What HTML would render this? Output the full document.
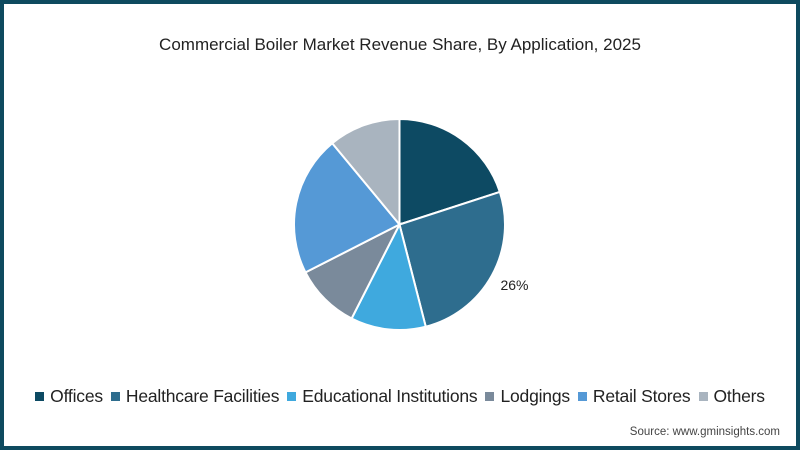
<!DOCTYPE html>
<html><head><meta charset="utf-8"><style>
body{margin:0;width:800px;height:450px;overflow:hidden;background:#fff;font-family:"Liberation Sans",sans-serif}
#frame{position:absolute;left:0;top:0;width:792px;height:442px;border:4px solid #0e4a5f;background:#fff}
#title{position:absolute;top:35px;width:800px;text-align:center;font-size:17px;color:#222}
#legend{position:absolute;top:386px;width:800px;text-align:center;font-size:17.5px;color:#222;white-space:nowrap;letter-spacing:-0.2px}
.li{display:inline-block;margin:0 4px}
.sw{display:inline-block;width:9px;height:9px;margin-right:6px;vertical-align:1px}
#src{position:absolute;right:20px;top:426px;font-size:11.5px;color:#444}
</style></head><body>
<div id="frame"></div>
<div id="title">Commercial Boiler Market Revenue Share, By Application, 2025</div>
<svg id="pie" width="800" height="450" style="position:absolute;left:0;top:0"></svg>
<div id="legend"></div>
<div id="src">Source: www.gminsights.com</div>
<script>
const categories=["Offices","Healthcare Facilities","Educational Institutions","Lodgings","Retail Stores","Others"];
const values=[20,26,11.5,10,21.5,11];
const colors=["#0d4a63","#2e6d8e","#3fa9de","#7a8a9b","#5599d6","#a9b4bf"];
const labels=["","26%","","","",""];
const svg=document.getElementById('pie');
const NS="http://www.w3.org/2000/svg";
const cx=399.5,cy=224.5,r=105.5;
const total=values.reduce((a,b)=>a+b,0);
function pt(a,rr){return [cx+rr*Math.sin(a),cy-rr*Math.cos(a)];}
let a0=0;
values.forEach((v,i)=>{
  const a1=a0+v/total*2*Math.PI;
  const p0=pt(a0,r),p1=pt(a1,r);
  const large=(a1-a0)>Math.PI?1:0;
  const p=document.createElementNS(NS,'path');
  p.setAttribute('d',`M${cx},${cy}L${p0[0]},${p0[1]}A${r},${r} 0 ${large} 1 ${p1[0]},${p1[1]}Z`);
  p.setAttribute('fill',colors[i]);p.setAttribute('stroke','#fff');p.setAttribute('stroke-width','2');
  
  
  svg.appendChild(p);
  if(labels[i]){
    const m=(a0+a1)/2;const q=pt(m,r+20);
    const t=document.createElementNS(NS,'text');
    t.setAttribute('x',q[0]+5);t.setAttribute('y',q[1]+5);t.setAttribute('font-size','14');t.setAttribute('fill','#222');
    t.setAttribute('text-anchor','middle');t.setAttribute('font-family','Liberation Sans, sans-serif');
    t.textContent=labels[i];
    
    
    svg.appendChild(t);
  }
  a0=a1;
});
const lg=document.getElementById('legend');
categories.forEach((c,i)=>{
  const s=document.createElement('span');s.className='li';
  
  
  s.innerHTML=`<span class="sw" style="background:${colors[i]}"></span>${c}`;
  lg.appendChild(s);
});
</script>
</body></html>
